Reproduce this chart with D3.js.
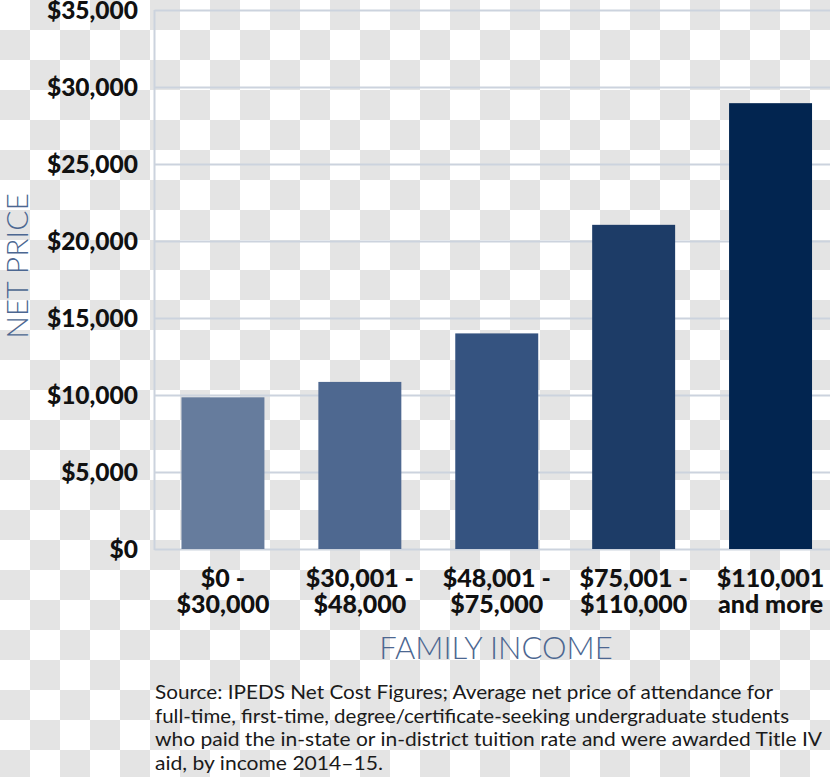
<!DOCTYPE html>
<html><head><meta charset="utf-8">
<script src="https://cdn.jsdelivr.net/npm/d3@7"></script>
<style>html,body{margin:0;padding:0;background:#fff;}svg{display:block;}</style>
</head><body>
<svg id="chart" width="830" height="777"></svg>
<script>
const categories = [["$0 -", "$30,000"], ["$30,001 -", "$48,000"], ["$48,001 -", "$75,000"], ["$75,001 -", "$110,000"], ["$110,001", "and more"]];
const values = [9850, 10850, 14000, 21050, 28950];
const barColors = ["#667c9d", "#4e6890", "#355380", "#1d3c67", "#022550"];
const yTicks = [0, 5000, 10000, 15000, 20000, 25000, 30000, 35000];
const sourceLines = [
  "Source: IPEDS Net Cost Figures; Average net price of attendance for",
  "full-time, first-time, degree/certificate-seeking undergraduate students",
  "who paid the in-state or in-district tuition rate and were awarded Title IV",
  "aid, by income 2014\u201315."
];
const sourceWidths = [618, 634, 667, 228];

const W = 830, H = 777;
const svg = d3.select("#chart");

// checkerboard (transparency) background
const defs = svg.append("defs");
const pat = defs.append("pattern").attr("id", "checker").attr("patternUnits", "userSpaceOnUse")
  .attr("width", 60).attr("height", 60);
pat.append("rect").attr("width", 60).attr("height", 60).attr("fill", "#ffffff");
pat.append("rect").attr("x", 30).attr("y", 0).attr("width", 30).attr("height", 30).attr("fill", "#e4e4e4");
pat.append("rect").attr("x", 0).attr("y", 30).attr("width", 30).attr("height", 30).attr("fill", "#e4e4e4");
svg.append("rect").attr("width", W).attr("height", H).attr("fill", "url(#checker)");

const plot = {left: 154.5, right: 839, top: 10, bottom: 549};
const x = d3.scaleBand().domain(d3.range(categories.length))
  .range([plot.left, plot.right]).paddingInner(0.394).paddingOuter(0.197);
const y = d3.scaleLinear().domain([0, 35000]).range([plot.bottom, plot.top]);

// gridlines
const gridColor = "#ccd3de";
svg.append("g").selectAll("line").data(yTicks).join("line")
  .attr("x1", plot.left).attr("x2", W)
  .attr("y1", d => Math.round(y(d)) + 0.5).attr("y2", d => Math.round(y(d)) + 0.5)
  .attr("stroke", gridColor).attr("stroke-width", 2);
svg.append("line").attr("x1", plot.left).attr("x2", plot.left)
  .attr("y1", y(35000)).attr("y2", y(0) + 1).attr("stroke", gridColor).attr("stroke-width", 2);

// y axis labels
const yAxis = d3.axisLeft(y).tickValues(yTicks).tickSize(0).tickPadding(0)
  .tickFormat(d => "$" + d3.format(",")(d));
const gy = svg.append("g").attr("transform", "translate(138,0)").call(yAxis);
gy.select(".domain").remove();
gy.selectAll("text").attr("font-family", "Lato, 'Open Sans', sans-serif").attr("font-weight", "900")
  .attr("font-size", 24.5).attr("fill", "#111").attr("dy", "0.36em");

// bars
svg.append("g").selectAll("rect").data(values).join("rect")
  .attr("x", (d, i) => x(i)).attr("width", x.bandwidth())
  .attr("y", d => y(d)).attr("height", d => y(0) - y(d))
  .attr("fill", (d, i) => barColors[i]);

// x labels
const xg = svg.append("g");
categories.forEach((d, i) => {
  d.forEach((line, k) => {
    xg.append("text").attr("text-anchor", "middle")
      .attr("font-family", "Lato, 'Open Sans', sans-serif").attr("font-weight", "900")
      .attr("font-size", 25).attr("fill", "#111")
      .attr("x", x(i) + x.bandwidth() / 2).attr("y", 587 + k * 26).text(line);
  });
});

// axis titles
svg.append("text").attr("x", 496).attr("y", 659).attr("text-anchor", "middle")
  .attr("font-family", "Lato, 'Open Sans', sans-serif").attr("font-weight", "300")
  .attr("font-size", 31).attr("fill", "#4c6791").text("FAMILY INCOME");
svg.append("text").attr("transform", "translate(28,266) rotate(-90)").attr("text-anchor", "middle")
  .attr("font-family", "Lato, 'Open Sans', sans-serif").attr("font-weight", "300")
  .attr("font-size", 30).attr("fill", "#4c6791").text("NET PRICE");

// source
svg.append("g").selectAll("text").data(sourceLines).join("text")
  .attr("x", 155).attr("y", (d, i) => 699 + i * 23.5)
  .attr("font-family", "Lato, 'Open Sans', sans-serif").attr("font-weight", "400")
  .attr("font-size", 19).attr("fill", "#1a1a1a")
  .attr("textLength", (d, i) => sourceWidths[i]).attr("lengthAdjust", "spacingAndGlyphs")
  .text(d => d);
</script>
</body></html>
